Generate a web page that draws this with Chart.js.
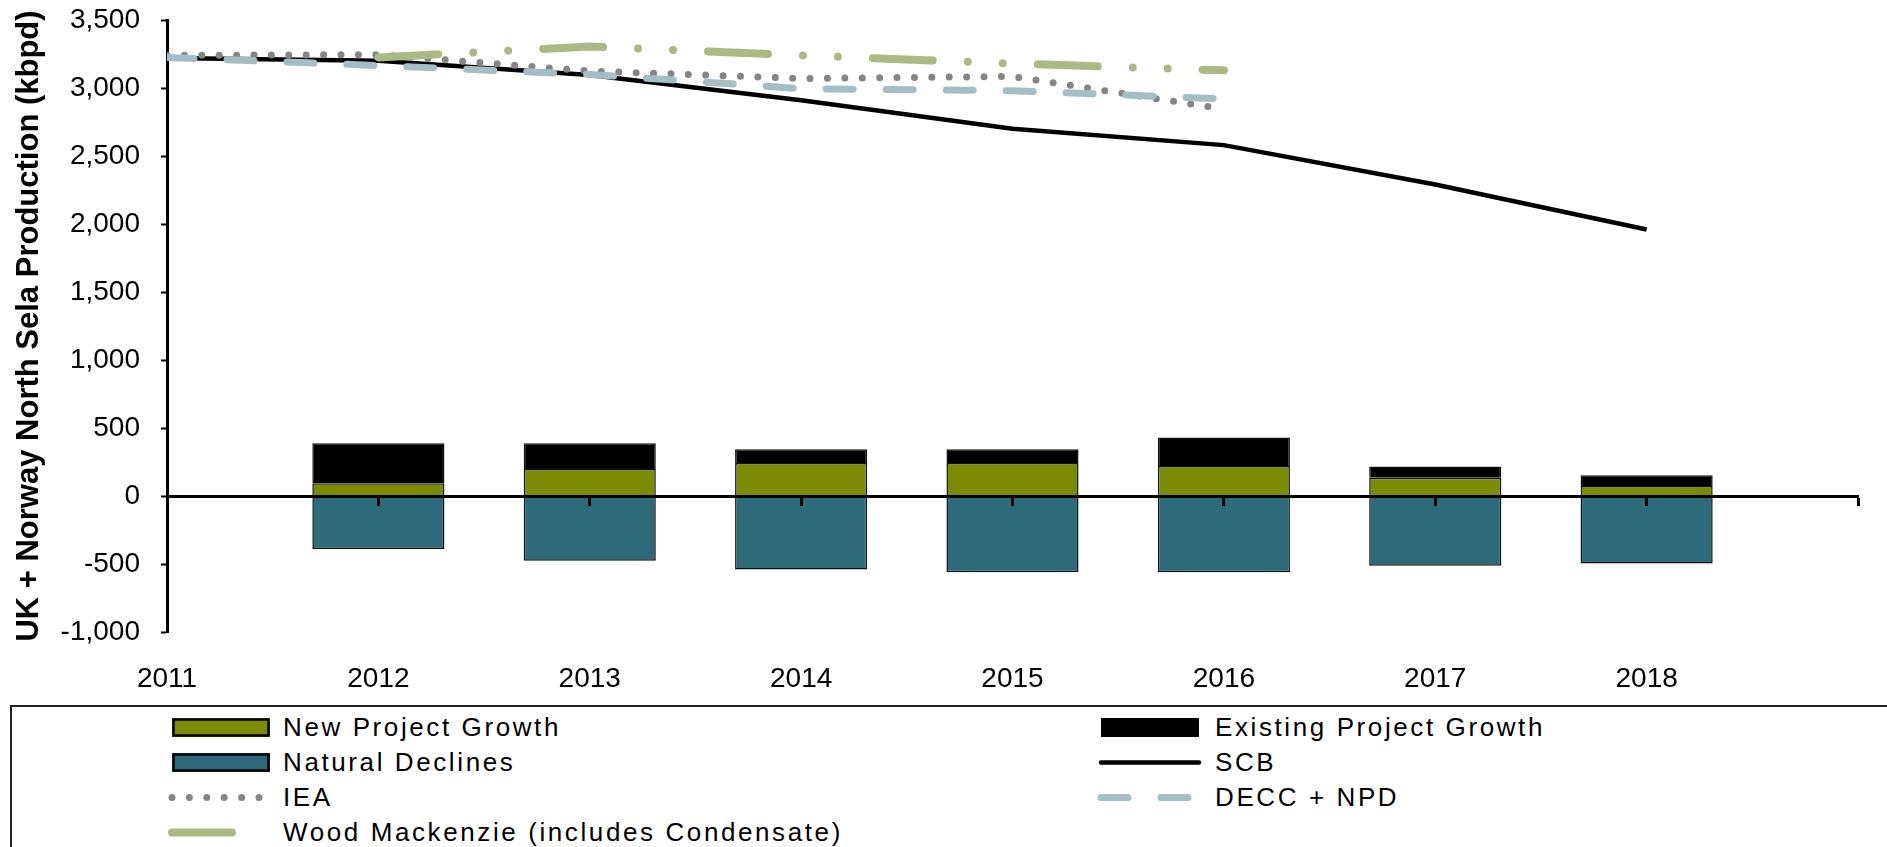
<!DOCTYPE html>
<html>
<head>
<meta charset="utf-8">
<script src="https://cdn.jsdelivr.net/npm/chart.js@4.4.0/dist/chart.umd.min.js"></script>
<style>
  html, body { margin: 0; padding: 0; background: #fff; overflow: hidden; }
  #wrap { position: relative; width: 1887px; height: 847px; }
  #chart { position: absolute; left: 0; top: 0; }
  #legend { position: absolute; left: 10px; top: 705px; width: 1900px; height: 160px; border: 2px solid #222; box-sizing: border-box;
            font-family: "Liberation Sans", Arial, sans-serif; font-size: 26px; letter-spacing: 2.6px; color: #000; }
  .item { position: absolute; height: 35px; }
  .item canvas { position: absolute; top: 0; }
  .item span { position: absolute; top: 0; line-height: 35px; white-space: nowrap; }
</style>
</head>
<body>
<div id="wrap">
  <canvas id="chart" width="1887" height="700"></canvas>
  <div id="legend"></div>
</div>
<script>
// chart data
var years = [2011, 2012, 2013, 2014, 2015, 2016, 2017, 2018];
var xLabels = ['2011', '2012', '2013', '2014', '2015', '2016', '2017', '2018'];
var barYears = [2012, 2013, 2014, 2015, 2016, 2017, 2018];
var newProject = [93, 199, 243, 243, 221, 135, 74];
var existingProject = [295, 189, 101, 101, 209, 81, 78];
var naturalDeclines = [-390, -476, -540, -560, -560, -513, -496];
var scb = [3220, 3200, 3095, 2910, 2700, 2580, 2290, 1960];
var iea = [3240, 3245, 3125, 3070, 3085, 2845, null, null];
var deccNpd = [3225, 3165, 3100, 2995, 2980, 2920, null, null];
var woodMac = [null, 3225, 3305, 3240, 3180, 3130, null, null];
var yMin = -1000, yMax = 3500, yStep = 500;

var fontFamily = '"Liberation Sans", Arial, sans-serif';

// turn x / y arrays into points, skipping empty years
function points(xs, ys) {
    return xs.map(function (x, i) { return { x: x, y: ys[i] }; })
             .filter(function (p) { return p.y !== null; });
}

// html legend, two columns
var legendCols = [{ sym: 156, text: 271 }, { sym: 1085, text: 1203 }];
var legendRowTop = [3, 38, 73, 108];

function drawSymbol(c, ds) {
    var g = c.getContext('2d');
    var mid = c.height / 2;
    if (ds.type === 'bar') {
        g.fillStyle = ds.backgroundColor;
        g.fillRect(4, mid - 9.5, 98, 19);
        if (ds.backgroundColor !== '#000000') {
            g.strokeStyle = '#000';
            g.lineWidth = 2.5;
            g.strokeRect(5.5, mid - 8, 95, 16);
        }
    } else {
        g.strokeStyle = ds.borderColor;
        g.lineWidth = ds.borderWidth;
        g.lineCap = 'round';
        var dash = ds.borderDash || [];
        g.setLineDash(dash);
        g.beginPath();
        g.moveTo(4, mid);
        g.lineTo(dash.length ? 94 : 102, mid);
        g.stroke();
    }
}

var htmlLegend = {
    id: 'htmlLegend',
    afterUpdate: function (chart) {
        var box = document.getElementById('legend');
        box.innerHTML = '';
        chart.data.datasets.forEach(function (ds, i) {
            var col = legendCols[i % 2];
            var item = document.createElement('div');
            item.className = 'item';
            item.style.top = legendRowTop[Math.floor(i / 2)] + 'px';
            item.style.left = '0px';
            var c = document.createElement('canvas');
            c.width = 106; c.height = 35;
            c.style.left = col.sym + 'px';
            drawSymbol(c, ds);
            var t = document.createElement('span');
            t.textContent = ds.label;
            t.style.left = col.text + 'px';
            item.appendChild(c);
            item.appendChild(t);
            box.appendChild(item);
        });
    }
};

var ctx = document.getElementById('chart').getContext('2d');
new Chart(ctx, {
    type: 'bar',
    data: {
        datasets: [{
            type: 'bar',
            label: 'New Project Growth',
            data: points(barYears, newProject),
            backgroundColor: '#7b8c04',
            borderColor: '#111',
            borderWidth: 1.5,
            categoryPercentage: 1,
            barPercentage: 0.625,
            stack: 'bars',
            xAxisID: 'x',
            order: 10
        }, {
            type: 'bar',
            label: 'Existing Project Growth',
            data: points(barYears, existingProject),
            backgroundColor: '#000000',
            borderColor: '#111',
            borderWidth: 1.5,
            categoryPercentage: 1,
            barPercentage: 0.625,
            stack: 'bars',
            xAxisID: 'x',
            order: 10
        }, {
            type: 'bar',
            label: 'Natural Declines',
            data: points(barYears, naturalDeclines),
            backgroundColor: '#2d6b7b',
            borderColor: '#111',
            borderWidth: 1.5,
            categoryPercentage: 1,
            barPercentage: 0.625,
            stack: 'bars',
            xAxisID: 'x',
            order: 10
        }, {
            type: 'line',
            label: 'SCB',
            data: points(years, scb),
            borderColor: '#000000',
            borderWidth: 4.5,
            pointRadius: 0,
            tension: 0,
            stack: 'scb',
            xAxisID: 'x',
            order: 4
        }, {
            type: 'line',
            label: 'IEA',
            data: points(years, iea),
            borderColor: '#858585',
            borderWidth: 7,
            borderDash: [0, 17.4],
            borderCapStyle: 'round',
            pointRadius: 0,
            tension: 0,
            stack: 'iea',
            xAxisID: 'x',
            order: 3
        }, {
            type: 'line',
            label: 'DECC + NPD',
            data: points(years, deccNpd),
            borderColor: '#a3bec6',
            borderWidth: 7,
            borderDash: [27, 33],
            borderCapStyle: 'round',
            pointRadius: 0,
            tension: 0,
            stack: 'decc',
            xAxisID: 'x',
            order: 2
        }, {
            type: 'line',
            label: 'Wood Mackenzie (includes Condensate)',
            data: points(years, woodMac),
            borderColor: '#abba82',
            borderWidth: 8,
            borderDash: [60, 35, 0, 35, 0, 35],
            borderCapStyle: 'round',
            pointRadius: 0,
            tension: 0,
            stack: 'wm',
            xAxisID: 'x',
            order: 1
        }]
    },
    options: {
        responsive: false,
        animation: false,
        layout: { padding: { top: 20, right: 29, left: 0, bottom: 0 } },
        plugins: {
            legend: { display: false },
            tooltip: { enabled: false }
        },
        scales: {
            x: {
                type: 'linear',
                min: 2011,
                max: 2019,
                offset: false,
                position: 'bottom',
                border: { display: false },
                grid: { display: false, offset: false },
                ticks: {
                    stepSize: 1,
                    padding: 22,
                    autoSkip: false,
                    maxRotation: 0,
                    color: '#000',
                    font: { family: fontFamily, size: 28 },
                    callback: function (v) { return xLabels[v - years[0]] || ''; }
                },
                afterFit: function (s) { s.height = 68; }
            },
            // zero line with its tick marks, drawn above the bars
            x0: {
                type: 'linear',
                min: 2011,
                max: 2019,
                offset: false,
                position: { y: 0 },
                ticks: { display: false, stepSize: 1 },
                grid: { z: 1, offset: false, drawOnChartArea: false, drawTicks: true, tickLength: 8, tickWidth: 3, tickColor: '#000' },
                border: { z: 1, color: '#000', width: 3 }
            },
            y: {
                stacked: true,
                min: yMin,
                max: yMax,
                ticks: {
                    stepSize: yStep,
                    padding: 21,
                    color: '#000',
                    font: { family: fontFamily, size: 28 }
                },
                grid: { drawOnChartArea: false, tickLength: 6, tickWidth: 2, tickColor: '#000' },
                border: { color: '#000', width: 3 },
                title: {
                    display: true,
                    text: 'UK + Norway North Sela Production (kbpd)',
                    color: '#000',
                    font: { family: fontFamily, size: 31, weight: 'bold' },
                    padding: { top: 11, bottom: 0 }
                },
                afterFit: function (s) {
                    s.width = 167;
                    s.paddingTop = 0;
                    s.paddingBottom = 0;
                }
            }
        }
    },
    plugins: [htmlLegend]
});
</script>
</body>
</html>
